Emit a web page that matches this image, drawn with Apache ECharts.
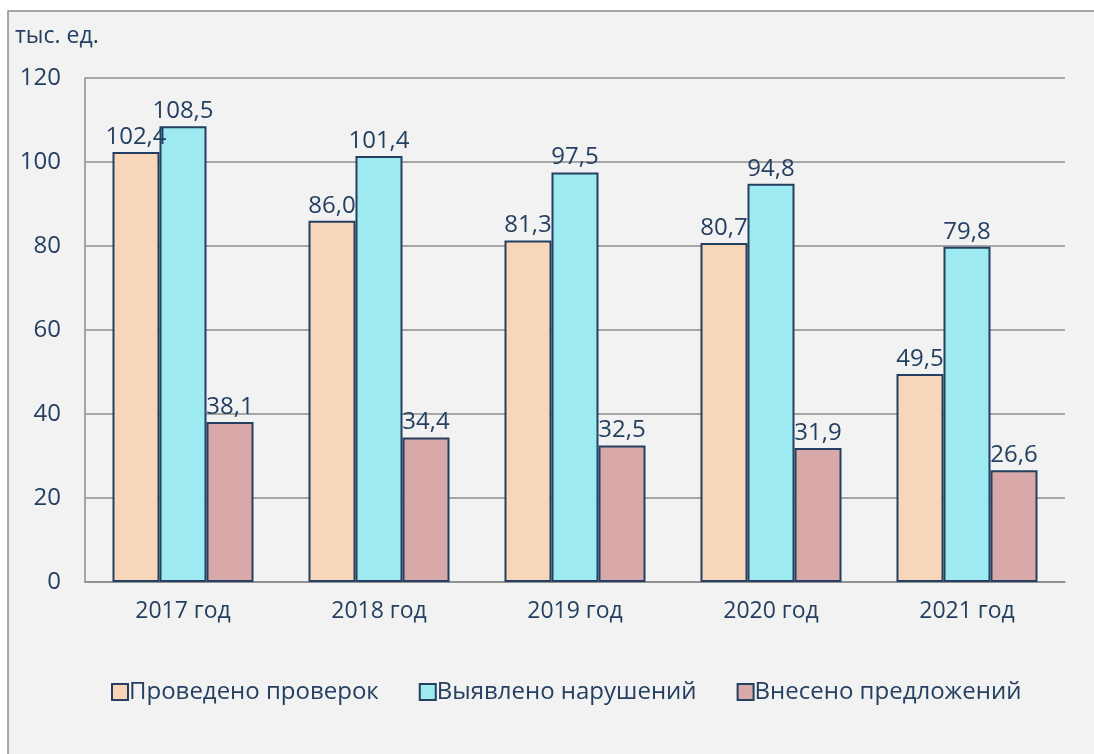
<!DOCTYPE html>
<html>
<head>
<meta charset="utf-8">
<script src="https://cdn.jsdelivr.net/npm/echarts@6/dist/echarts.min.js"></script>
<style>
    html, body { margin: 0; padding: 0; background: #ffffff; }
    #chart { width: 1094px; height: 754px; }
</style>
</head>
<body>
<div id="chart"></div>
<script>
// данные диаграммы
const years = ["2017 год", "2018 год", "2019 год", "2020 год", "2021 год"];
const checks = [102.4, 86.0, 81.3, 80.7, 49.5]; // Проведено проверок
const violations = [108.5, 101.4, 97.5, 94.8, 79.8]; // Выявлено нарушений
const proposals = [38.1, 34.4, 32.5, 31.9, 26.6]; // Внесено предложений
const seriesNames = ["Проведено проверок", "Выявлено нарушений", "Внесено предложений"];
const yTicks = [0, 20, 40, 60, 80, 100, 120];

const textColor = "#243f60";
const font = "Open Sans";
const fillColors = ["#f8d6b9", "#9deaf0", "#d9a9a9"];

const dom = echarts.init(document.getElementById("chart"), null, { renderer: "canvas" });

const label = {
    show: true,
    position: "top",
    distance: 3,
    color: textColor,
    fontFamily: font,
    fontSize: 24,
    formatter: p => p.value.toFixed(1).replace(".", ",")
};

function makeSeries (name, data, i) {
    return {
        type: "bar",
        name,
        data,
        barWidth: 47,
        barGap: "0%",
        itemStyle: { color: fillColors[i], borderColor: textColor, borderWidth: 2 },
        label,
        silent: true
    };
}

const option = {
    animation: false,
    backgroundColor: "#ffffff",
    textStyle: { fontFamily: font },
    graphic: [
        {
            type: "rect",
            z: -10,
            shape: { x: 8, y: 11, width: 1100, height: 800 },
            style: { fill: "#f2f2f2", stroke: "#8c8c8c", lineWidth: 1.5 }
        },
        {
            type: "text",
            left: 15,
            top: 25,
            style: { text: "тыс. ед.", fill: textColor, font: "23px 'Open Sans'" }
        }
    ],
    grid: { left: 85, right: 29, top: 78, bottom: 172, containLabel: false },
    xAxis: {
        type: "category",
        data: years,
        axisLine: { show: true, lineStyle: { color: "#8c8c8c", width: 1.5 } },
        axisTick: { show: false },
        axisLabel: { color: textColor, fontSize: 23, fontFamily: font, margin: 18 }
    },
    yAxis: {
        type: "value",
        min: yTicks[0],
        max: yTicks[yTicks.length - 1],
        interval: 20,
        axisLine: { show: true, lineStyle: { color: "#8c8c8c", width: 1.5 } },
        axisTick: { show: false },
        splitLine: { lineStyle: { color: "#8c8c8c", width: 1.5 } },
        axisLabel: { color: textColor, fontSize: 24, fontFamily: font, margin: 24 }
    },
    legend: {
        data: seriesNames,
        left: 106,
        top: 675,
        icon: "rect",
        itemWidth: 16,
        itemHeight: 16,
        itemGap: 40,
        textStyle: { color: textColor, fontSize: 24, fontFamily: font, padding: [0, 0, 0, -4] }
    },
    series: [
        makeSeries(seriesNames[0], checks, 0),
        makeSeries(seriesNames[1], violations, 1),
        makeSeries(seriesNames[2], proposals, 2)
    ]
};
dom.setOption(option);
</script>
</body>
</html>
